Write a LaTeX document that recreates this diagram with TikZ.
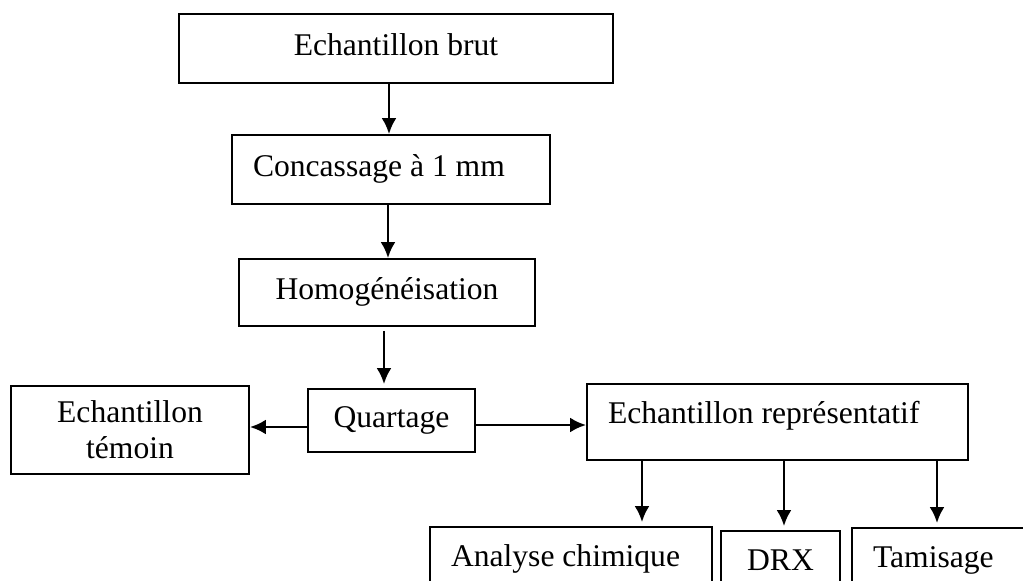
\documentclass[tikz,border=0pt]{standalone}
\usepackage{fontspec}
\setmainfont{Liberation Serif}
\usetikzlibrary{arrows.meta}

\begin{document}
\begin{tikzpicture}[x=0.5pt, y=-0.5pt,
    boite/.style={draw, line width=0.9pt, inner xsep=10.5pt, inner ysep=1pt,
      text height=11pt, text depth=3.9pt, font=\fontsize{15.8}{18}\selectfont},
    fleche/.style={-{Latex[length=8pt,width=7.5pt]}, line width=1.4pt}]
  \clip (0,0) rectangle (1023,580);
  \useasboundingbox (0,0) rectangle (1023,580);
  % les etapes
  \node[boite, minimum width=217pt, minimum height=34.5pt] (brut) at (396,48.5) {Echantillon brut};
  \node[boite, minimum height=34.5pt, text width=138pt, align=flush left] (conc) at (391,169.5) {Concassage à 1 mm};
  \node[boite, minimum width=148pt, minimum height=33.5pt] (homo) at (387,292.5) {Homogénéisation};
  \node[boite, minimum width=83.5pt, minimum height=31.5pt] (quart) at (391.5,420.5) {Quartage};
  \node[boite, minimum width=119pt, minimum height=44pt, text height=, text depth=, align=center] (temoin) at (130,430) {Echantillon\\témoin};
  \node[boite, minimum height=38pt, text width=169.5pt, align=flush left, text depth=10pt] (repr) at (777.5,422) {Echantillon représentatif};
  \node[boite, minimum height=32pt, text width=120pt, align=flush left] (chim) at (571,559) {Analyse chimique};
  \node[boite, minimum width=59.5pt, minimum height=32pt] (drx) at (780.5,563) {DRX};
  \node[boite, minimum height=32pt, text width=73pt, align=flush left] (tami) at (946,560) {Tamisage};
  % les fleches
  \coordinate (xab) at (389,0);
  \coordinate (xbc) at (388,0);
  \coordinate (xcd) at (384,0);
  \coordinate (yq) at (0,427);
  \coordinate (yr) at (0,425);
  \coordinate (xg) at (642,0);
  \coordinate (xh) at (784,0);
  \coordinate (xi) at (937,0);
  \draw[fleche] (brut.south -| xab) -- (conc.north -| xab);
  \draw[fleche] (conc.south -| xbc) -- (homo.north -| xbc);
  \draw[fleche, shorten <=2pt, shorten >=2pt] (homo.south -| xcd) -- (quart.north -| xcd);
  \draw[fleche] (quart.west |- yq) -- (temoin.east |- yq);
  \draw[fleche] (quart.east |- yr) -- (repr.west |- yr);
  \foreach \c/\n in {xg/chim, xh/drx, xi/tami}
    \draw[fleche, shorten >=2pt] (repr.south -| \c) -- (\n.north -| \c);
\end{tikzpicture}
\end{document}
